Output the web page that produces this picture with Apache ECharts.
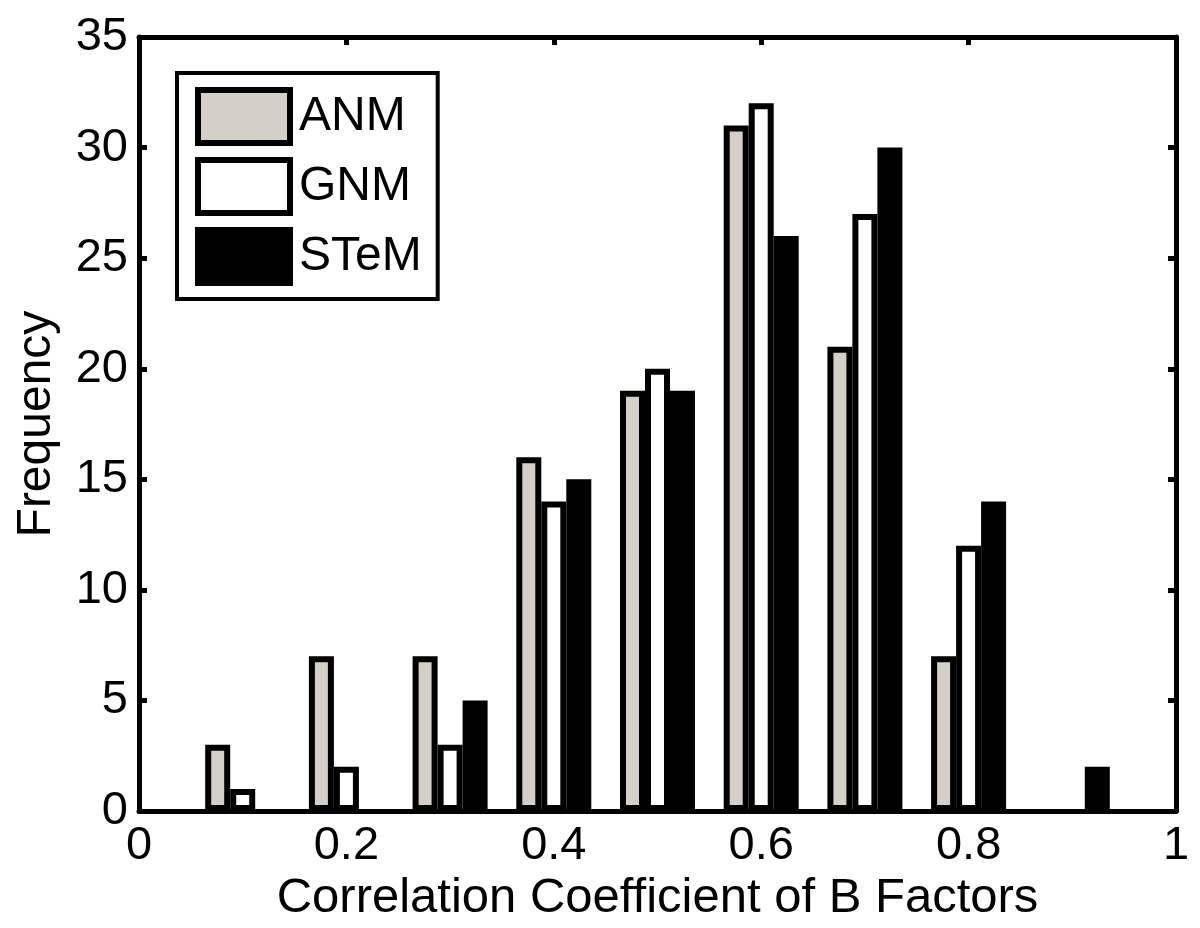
<!DOCTYPE html>
<html>
<head>
<meta charset="utf-8">
<script src="https://cdn.jsdelivr.net/npm/echarts@6/dist/echarts.min.js"></script>
<style>html,body{margin:0;padding:0;background:#fff;}#c{width:1200px;height:928px;}</style>
</head>
<body>
<div id="c"></div>
<script>
var binCenters = [0.1, 0.2, 0.3, 0.4, 0.5, 0.6, 0.7, 0.8, 0.9];
var anm  = [3, 7, 7, 16, 19, 31, 21, 7, 0];
var gnm  = [1, 2, 3, 14, 20, 32, 27, 12, 0];
var stem = [0, 0, 5, 15, 19, 26, 30, 14, 2];
var xTicks = [0, 0.2, 0.4, 0.6, 0.8, 1];
var yTicks = [0, 5, 10, 15, 20, 25, 30, 35];

var FONT = '"Liberation Sans", Arial, Helvetica, sans-serif';
function pairs(vals) {
  var out = [];
  for (var i = 0; i < binCenters.length; i++) {
    if (vals[i] > 0) out.push([binCenters[i], vals[i]]);
  }
  return out;
}
function fmtX(v) { return String(Math.round(v * 10) / 10); }

var chart = echarts.init(document.getElementById('c'));
var axisLine = { show: true, onZero: false, lineStyle: { color: '#000', width: 5 } };
var axisTick = { show: true, inside: true, length: 8, lineStyle: { color: '#000', width: 5 } };
var barBase = { borderColor: '#000', borderWidth: 6 };

chart.setOption({
  backgroundColor: '#fff',
  animation: false,
  textStyle: { fontFamily: FONT },
  grid: { left: 139, right: 24, top: 37, bottom: 113 },
  legend: {
    orient: 'vertical',
    left: 177,
    top: 73,
    icon: 'rect',
    itemWidth: 92,
    itemHeight: 53,
    itemGap: 11,
    padding: [14, 16, 13, 18],
    borderColor: '#000',
    borderWidth: 4,
    backgroundColor: '#fff',
    itemStyle: { borderColor: '#000', borderWidth: 6 },
    textStyle: { fontFamily: FONT, fontSize: 48, color: '#000', lineHeight: 53, height: 53, padding: [0, 0, 0, 4] },
    data: ['ANM', 'GNM', 'STeM']
  },
  xAxis: [{
    type: 'value', min: 0, max: 1, interval: 0.2, position: 'bottom',
    name: 'Correlation Coefficient of B Factors', nameLocation: 'middle', nameGap: 62,
    nameTextStyle: { fontFamily: FONT, fontSize: 49, color: '#000' },
    axisLine: axisLine, axisTick: axisTick, splitLine: { show: false },
    axisLabel: { fontFamily: FONT, fontSize: 47, color: '#000', margin: 11,
      formatter: function (v) { return xTicks.indexOf(Math.round(v * 10) / 10) >= 0 ? fmtX(v) : ''; } }
  }, {
    type: 'value', min: 0, max: 1, interval: 0.2, position: 'top',
    axisLine: axisLine, axisTick: axisTick, splitLine: { show: false }, axisLabel: { show: false }
  }],
  yAxis: [{
    type: 'value', min: 0, max: 35, interval: 5, position: 'left',
    name: 'Frequency', nameLocation: 'middle', nameGap: 78,
    nameTextStyle: { fontFamily: FONT, fontSize: 48, color: '#000' },
    axisLine: axisLine, axisTick: axisTick, splitLine: { show: false },
    axisLabel: { fontFamily: FONT, fontSize: 47, color: '#000', margin: 11,
      formatter: function (v) { return yTicks.indexOf(v) >= 0 ? String(v) : ''; } }
  }, {
    type: 'value', min: 0, max: 35, interval: 5, position: 'right',
    axisLine: axisLine, axisTick: axisTick, splitLine: { show: false }, axisLabel: { show: false }
  }],
  series: [
    { name: 'ANM', type: 'bar', data: pairs(anm), barWidth: 25, barGap: '0%',
      itemStyle: Object.assign({ color: '#d4d0c8' }, barBase) },
    { name: 'GNM', type: 'bar', data: pairs(gnm), barWidth: 25, barGap: '0%',
      itemStyle: Object.assign({ color: '#ffffff' }, barBase) },
    { name: 'STeM', type: 'bar', data: pairs(stem), barWidth: 25, barGap: '0%',
      itemStyle: Object.assign({ color: '#000000' }, barBase) }
  ]
});
</script>
</body>
</html>
